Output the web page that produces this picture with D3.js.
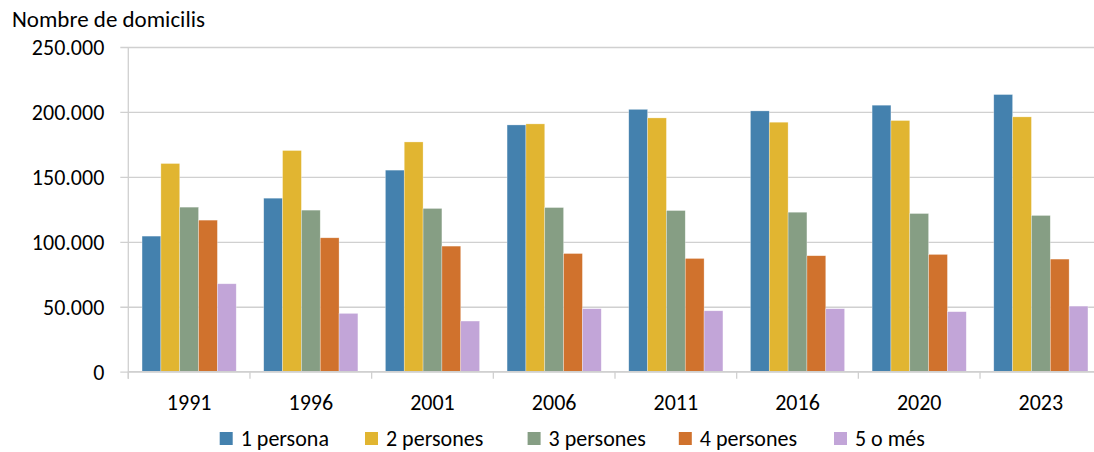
<!DOCTYPE html>
<html>
<head>
<meta charset="utf-8">
<script src="https://cdn.jsdelivr.net/npm/d3@7"></script>
<style>
  body { margin: 0; background: #fff; }
  svg { display: block; font-family: Carlito, Calibri, Lato, sans-serif; }
</style>
</head>
<body>
<div id="chart"></div>
<script>
const years = ["1991", "1996", "2001", "2006", "2011", "2016", "2020", "2023"];
const seriesNames = ["1 persona", "2 persones", "3 persones", "4 persones", "5 o més"];
const persona1 = [104400, 133600, 155200, 190000, 202000, 200800, 205200, 213400];
const persones2 = [160300, 170300, 176900, 190800, 195400, 192100, 193400, 196200];
const persones3 = [126700, 124400, 125700, 126400, 124100, 122800, 121800, 120300];
const persones4 = [116700, 103100, 96700, 91000, 87200, 89300, 90300, 86700];
const omes5 = [67700, 44900, 39000, 48500, 46900, 48500, 46200, 50500];
const yTicks = [0, 50000, 100000, 150000, 200000, 250000];
const colors = ["#4481ae", "#e1b531", "#869e84", "#d0722d", "#c2a5d8"];

const series = [persona1, persones2, persones3, persones4, omes5];

const width = 1094, height = 452;
const plotLeft = 128.3, plotRight = 1101.7, plotTop = 47, plotBottom = 371.7;

const svg = d3.select("#chart").append("svg")
    .attr("width", width)
    .attr("height", height);

const x = d3.scaleBand().domain(years).range([plotLeft, plotRight]).padding(0);
const xs = d3.scaleBand().domain(seriesNames)
    .range([x.bandwidth() * 0.113, x.bandwidth() * 0.887]).padding(0);
const y = d3.scaleLinear().domain([0, 250000]).range([plotBottom, plotTop]);

const fmt = d => d3.format(",")(d).replace(/,/g, ".");

// gridlines + y axis
svg.append("g")
    .attr("transform", `translate(${plotLeft},0)`)
    .call(d3.axisLeft(y).tickValues(yTicks).tickSize(-(plotRight - plotLeft)).tickPadding(24).tickFormat(fmt))
    .call(g => g.select(".domain").remove())
    .call(g => g.selectAll(".tick line").attr("stroke", "#d0d0d0").attr("stroke-width", 1.3).attr("x1", -8))
    .call(g => g.selectAll(".tick text").attr("fill", "#000").attr("font-size", 22).attr("dy", "0.34em").attr("font-family", "Carlito, Calibri, Lato, sans-serif"));

svg.append("line")
    .attr("x1", plotLeft).attr("x2", plotLeft)
    .attr("y1", plotTop).attr("y2", plotBottom + 7)
    .attr("stroke", "#d0d0d0").attr("stroke-width", 1.3);

// bars
const groups = svg.append("g").selectAll("g")
    .data(years)
    .join("g")
    .attr("transform", d => `translate(${x(d)},0)`);

groups.selectAll("rect")
    .data((d, i) => series.map((s, k) => ({ name: seriesNames[k], value: s[i], k })))
    .join("rect")
    .attr("x", d => xs(d.name))
    .attr("y", d => y(d.value))
    .attr("width", xs.bandwidth())
    .attr("height", d => plotBottom - y(d.value))
    .attr("fill", d => colors[d.k])
    .attr("stroke", "#fff")
    .attr("stroke-opacity", 0.5)
    .attr("stroke-width", 0.6);

// x axis
svg.append("line")
    .attr("x1", plotLeft).attr("x2", plotRight)
    .attr("y1", plotBottom).attr("y2", plotBottom)
    .attr("stroke", "#d0d0d0").attr("stroke-width", 1.3);

svg.append("g").selectAll("line")
    .data(years)
    .join("line")
    .attr("x1", d => x(d)).attr("x2", d => x(d))
    .attr("y1", plotBottom).attr("y2", plotBottom + 7)
    .attr("stroke", "#d0d0d0").attr("stroke-width", 1.3);

svg.append("g").selectAll("text")
    .data(years)
    .join("text")
    .attr("x", d => x(d) + x.bandwidth() / 2)
    .attr("y", 410)
    .attr("text-anchor", "middle")
    .attr("font-size", 22)
    .text(d => d);

// title
svg.append("text")
    .attr("x", 12).attr("y", 27)
    .attr("font-size", 23)
    .text("Nombre de domicilis");

// legend
const legendX = [219.7, 365, 527.6, 678.8, 834];
const legend = svg.append("g").selectAll("g")
    .data(seriesNames)
    .join("g")
    .attr("transform", (d, i) => `translate(${legendX[i]},432)`);

legend.append("rect")
    .attr("width", 13).attr("height", 13)
    .attr("fill", (d, i) => colors[i]);

legend.append("text")
    .attr("x", 21).attr("y", 14)
    .attr("font-size", 22)
    .text(d => d);
</script>
</body>
</html>
